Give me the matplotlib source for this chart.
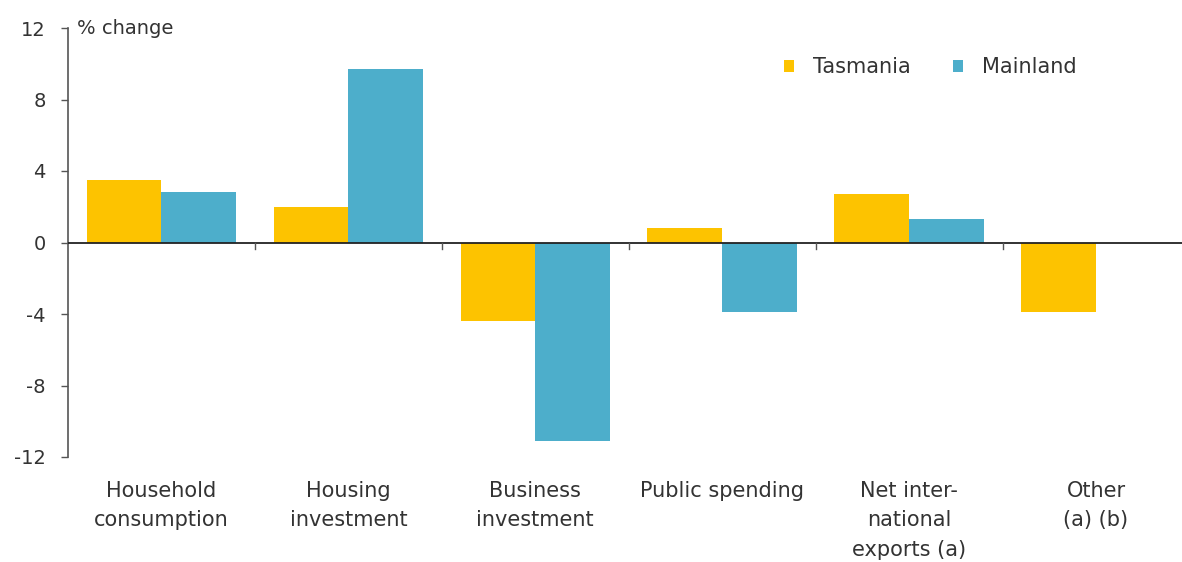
import matplotlib
matplotlib.use("Agg")
import matplotlib.pyplot as plt
import numpy as np

categories = ["Household\nconsumption", "Housing\ninvestment", "Business\ninvestment",
              "Public spending", "Net inter-\nnational\nexports (a)", "Other\n(a) (b)"]
tasmania = [3.5, 2.0, -4.4, 0.8, 2.7, -3.9]
mainland = [2.8, 9.7, -11.1, -3.9, 1.3, 0.0]
yticks = [12, 8, 4, 0, -4, -8, -12]
series_names = ["Tasmania", "Mainland"]

c_tas = "#FDC300"
c_main = "#4DAECB"
txt = "#333333"
axc = "#555555"

plt.rcParams['font.family'] = ['DejaVu Sans']

fig = plt.figure(figsize=(11.82, 5.62), dpi=100)
ax = fig.add_axes([68/1182, 1-457/562, 1-68/1182, (457-28)/562])

x = np.arange(len(categories))
w = 0.4
ax.bar(x - w/2, tasmania, w, color=c_tas, label=series_names[0], zorder=2)
ax.bar(x + w/2, mainland, w, color=c_main, label=series_names[1], zorder=2)

ax.set_xlim(-0.5, 5.46)
ax.set_ylim(-12, 12)
ax.axhline(0, color="#222222", lw=1.3, zorder=3)

for s in ["top", "right", "bottom"]:
    ax.spines[s].set_visible(False)
ax.spines["left"].set_color(axc)
ax.spines["left"].set_linewidth(1.2)

ax.set_yticks(yticks)
ax.set_yticklabels([str(v) for v in yticks])
ax.tick_params(axis="y", length=5, width=1, color=axc, labelsize=14, labelcolor=txt, pad=11)
ax.set_xticks([])

# group separator ticks on zero line
for b in np.arange(0.5, len(categories) - 0.5, 1.0):
    ax.plot([b, b], [0, -0.35], color=axc, lw=1, zorder=3, clip_on=False)

for i, c in enumerate(categories):
    ax.text(x[i], -0.055, c, transform=ax.get_xaxis_transform(), ha="center", va="top",
            fontsize=15, color=txt, linespacing=1.6)

ax.text(0.008, 1.0, "% change", transform=ax.transAxes, ha="left", va="center",
        fontsize=14, color=txt)

leg = ax.legend(loc="upper right", bbox_to_anchor=(0.922, 0.975), ncol=2, frameon=False,
                fontsize=15, handlelength=0.5, handleheight=0.5, handletextpad=0.9,
                columnspacing=2.0, labelcolor=txt)

fig.savefig("out.png", dpi=100, facecolor="white")
